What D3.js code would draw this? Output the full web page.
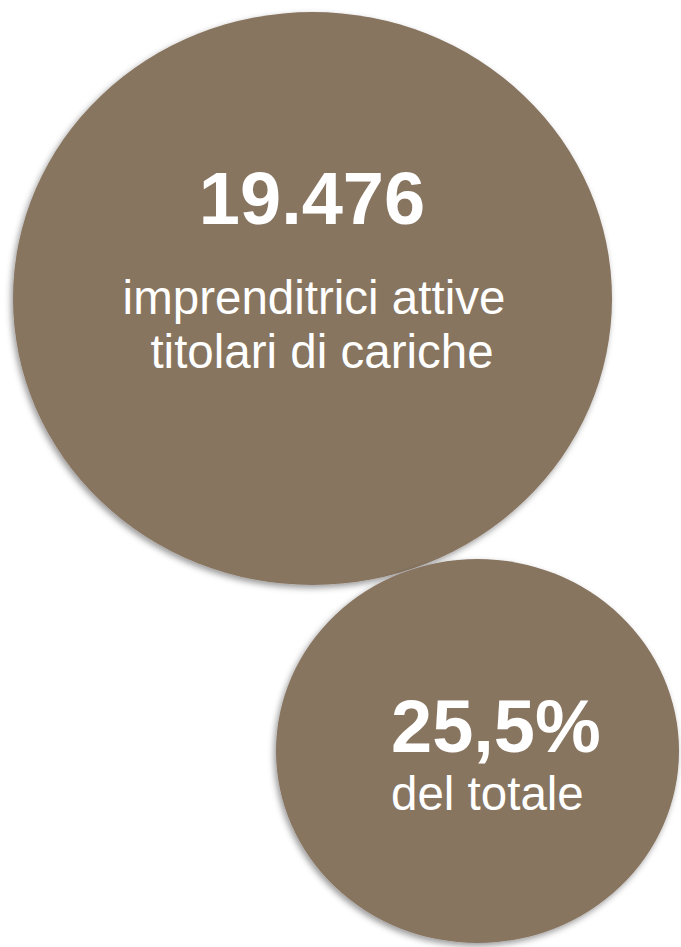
<!DOCTYPE html>
<html>
<head>
<meta charset="utf-8">
<script src="https://cdn.jsdelivr.net/npm/d3@7"></script>
<style>
  body { margin: 0; background: #fff; }
  text { font-family: "Liberation Sans", Arial, sans-serif; fill: #fff; }
</style>
</head>
<body>
<div id="chart"></div>
<script>
// Data - headline figures and their captions
var figures = ["19.476", "25,5%"];
var captions = [
  ["imprenditrici attive", "titolari di cariche"],
  ["del totale"]
];

// Layout for each bubble (kept apart from the data)
var svgWidth = 681;
var svgHeight = 947;
var bubbleColor = "#877461";
var layout = [
  { cx: 312.5, cy: 298.5, rx: 299.5, ry: 286.5,
    anchor: "middle", numX: 312, numY: 224, capX: [314, 322], capY: 314, lineH: 54 },
  { cx: 477.5, cy: 751, rx: 201.5, ry: 192,
    anchor: "start", numX: 391, numY: 752, capX: [391], capY: 810, lineH: 54 }
];

var svg = d3.select("#chart")
  .append("svg")
  .attr("width", svgWidth)
  .attr("height", svgHeight);

// soft drop shadow under the bubbles
var filter = svg.append("defs").append("filter")
  .attr("id", "shadow")
  .attr("x", "-10%").attr("y", "-10%")
  .attr("width", "120%").attr("height", "120%");
filter.append("feDropShadow")
  .attr("dx", -2)
  .attr("dy", 3)
  .attr("stdDeviation", 3)
  .attr("flood-color", "#000")
  .attr("flood-opacity", 0.4);

var bubbles = svg.selectAll("g.bubble")
  .data(figures)
  .enter()
  .append("g")
  .classed("bubble", true);

bubbles.append("ellipse")
  .attr("cx", (d, i) => layout[i].cx)
  .attr("cy", (d, i) => layout[i].cy)
  .attr("rx", (d, i) => layout[i].rx)
  .attr("ry", (d, i) => layout[i].ry)
  .attr("fill", bubbleColor)
  .attr("filter", "url(#shadow)");

// big number
bubbles.append("text")
  .attr("x", (d, i) => layout[i].numX)
  .attr("y", (d, i) => layout[i].numY)
  .attr("text-anchor", (d, i) => layout[i].anchor)
  .style("font-size", "74px")
  .style("font-weight", "bold")
  .text(d => d);

// caption lines
bubbles.each(function(d, i) {
  var L = layout[i];
  d3.select(this).selectAll("text.caption")
    .data(captions[i])
    .enter()
    .append("text")
    .classed("caption", true)
    .attr("x", (t, j) => L.capX[j])
    .attr("y", (t, j) => L.capY + j * L.lineH)
    .attr("text-anchor", L.anchor)
    .style("font-size", "47.5px")
    .text(t => t);
});
</script>
</body>
</html>
